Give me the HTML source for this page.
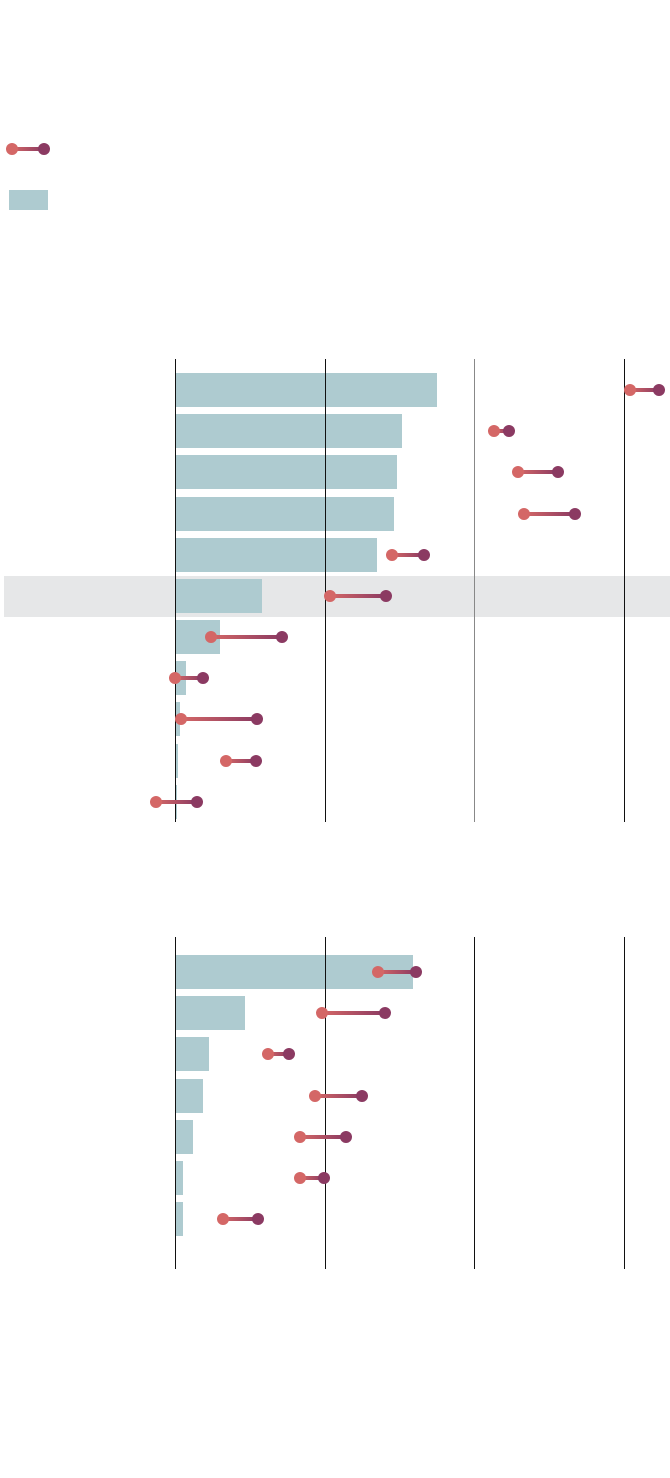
<!DOCTYPE html>
<html><head><meta charset="utf-8"><style>body{margin:0;background:#fff}svg{display:block}</style></head><body>
<svg width="670" height="1478" xmlns="http://www.w3.org/2000/svg">
<defs><linearGradient id="g" x1="0" x2="1" y1="0" y2="0"><stop offset="0" stop-color="#d46766"/><stop offset="1" stop-color="#8b3a62"/></linearGradient></defs>
<rect x="9" y="190" width="39" height="20" fill="#aecbd0"/>
<rect x="4" y="576" width="666" height="41" fill="#e6e7e8"/>
<g fill="#aecbd0">
<rect x="175" y="373" width="262" height="34"/><rect x="175" y="414" width="227" height="34"/><rect x="175" y="455" width="222" height="34"/><rect x="175" y="497" width="219" height="34"/><rect x="175" y="538" width="202" height="34"/><rect x="175" y="579" width="87" height="34"/><rect x="175" y="620" width="45" height="34"/><rect x="175" y="661" width="11" height="34"/><rect x="175" y="702" width="5" height="34"/><rect x="175" y="744" width="3" height="34"/><rect x="175" y="785" width="2" height="34"/>
<rect x="175" y="955" width="238" height="34"/><rect x="175" y="996" width="70" height="34"/><rect x="175" y="1037" width="34" height="34"/><rect x="175" y="1079" width="28" height="34"/><rect x="175" y="1120" width="18" height="34"/><rect x="175" y="1161" width="8" height="34"/><rect x="175" y="1202" width="8" height="34"/>
</g>
<g stroke="#111" stroke-width="1">
<line x1="175.5" y1="359" x2="175.5" y2="822"/><line x1="325.5" y1="359" x2="325.5" y2="822"/><line x1="474.5" y1="359" x2="474.5" y2="822" stroke="#888"/><line x1="624.5" y1="359" x2="624.5" y2="822"/>
<line x1="175.5" y1="937" x2="175.5" y2="1269"/><line x1="325.5" y1="937" x2="325.5" y2="1269"/><line x1="474.5" y1="937" x2="474.5" y2="1269"/><line x1="624.5" y1="937" x2="624.5" y2="1269"/>
</g>
<g fill="url(#g)">
<rect x="12" y="147" width="32" height="4"/>
<rect x="630" y="388" width="29" height="4"/>
<rect x="494" y="429" width="15" height="4"/>
<rect x="518" y="470" width="40" height="4"/>
<rect x="524" y="512" width="51" height="4"/>
<rect x="392" y="553" width="32" height="4"/>
<rect x="330" y="594" width="56" height="4"/>
<rect x="211" y="635" width="71" height="4"/>
<rect x="175" y="676" width="28" height="4"/>
<rect x="181" y="717" width="76" height="4"/>
<rect x="226" y="759" width="30" height="4"/>
<rect x="156" y="800" width="41" height="4"/>
<rect x="378" y="970" width="38" height="4"/>
<rect x="322" y="1011" width="63" height="4"/>
<rect x="268" y="1052" width="21" height="4"/>
<rect x="315" y="1094" width="47" height="4"/>
<rect x="300" y="1135" width="46" height="4"/>
<rect x="300" y="1176" width="24" height="4"/>
<rect x="223" y="1217" width="35" height="4"/>
</g>
<g fill="#d46766">
<circle cx="12" cy="149" r="6"/>
<circle cx="630" cy="390" r="6"/><circle cx="494" cy="431" r="6"/><circle cx="518" cy="472" r="6"/><circle cx="524" cy="514" r="6"/><circle cx="392" cy="555" r="6"/><circle cx="330" cy="596" r="6"/><circle cx="211" cy="637" r="6"/><circle cx="175" cy="678" r="6"/><circle cx="181" cy="719" r="6"/><circle cx="226" cy="761" r="6"/><circle cx="156" cy="802" r="6"/>
<circle cx="378" cy="972" r="6"/><circle cx="322" cy="1013" r="6"/><circle cx="268" cy="1054" r="6"/><circle cx="315" cy="1096" r="6"/><circle cx="300" cy="1137" r="6"/><circle cx="300" cy="1178" r="6"/><circle cx="223" cy="1219" r="6"/>
</g>
<g fill="#8b3a62">
<circle cx="44" cy="149" r="6"/>
<circle cx="659" cy="390" r="6"/><circle cx="509" cy="431" r="6"/><circle cx="558" cy="472" r="6"/><circle cx="575" cy="514" r="6"/><circle cx="424" cy="555" r="6"/><circle cx="386" cy="596" r="6"/><circle cx="282" cy="637" r="6"/><circle cx="203" cy="678" r="6"/><circle cx="257" cy="719" r="6"/><circle cx="256" cy="761" r="6"/><circle cx="197" cy="802" r="6"/>
<circle cx="416" cy="972" r="6"/><circle cx="385" cy="1013" r="6"/><circle cx="289" cy="1054" r="6"/><circle cx="362" cy="1096" r="6"/><circle cx="346" cy="1137" r="6"/><circle cx="324" cy="1178" r="6"/><circle cx="258" cy="1219" r="6"/>
</g>
</svg>
</body></html>
